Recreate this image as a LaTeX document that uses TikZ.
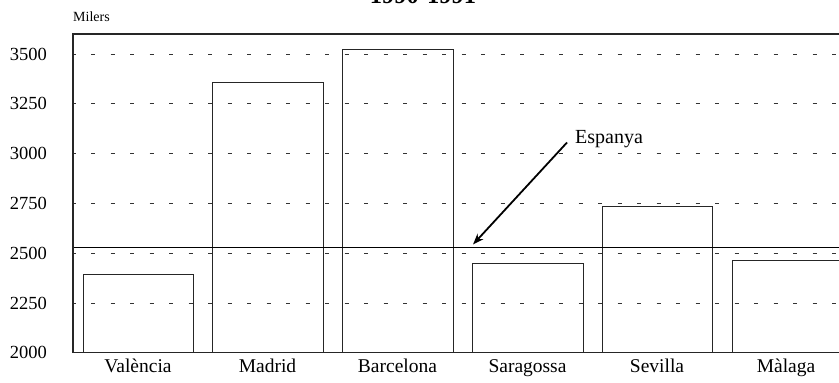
\documentclass[tikz,border=0pt]{standalone}
\usepackage{fontspec}
\setmainfont{Liberation Serif}
\usetikzlibrary{arrows.meta}
\begin{document}
\begin{tikzpicture}[x=1pt,y=-1pt,
  framestyle/.style={line width=1.3pt,black!85},
  barstyle/.style={line width=1pt,black!85},
  gridstyle/.style={line width=1pt,black!80,dash pattern=on 4pt off 15.5pt,dash phase=1.5pt},
  refline/.style={line width=0.9pt,black},
  ticklab/.style={anchor=east,font=\fontsize{18.5}{18.5}\selectfont,inner sep=0pt},
  catlab/.style={anchor=base,font=\fontsize{19.5}{19.5}\selectfont,inner sep=0pt},
  arrowstyle/.style={line width=1.8pt,-{Stealth[length=11pt,width=8pt]}}]
\useasboundingbox (0,0) rectangle (839,383);
% title (cut at top)
\node[anchor=base,font=\bfseries\fontsize{24.5}{24.5}\selectfont,inner sep=0pt] (title) at (423,3.5) {1990-1991};
% unit
\node[anchor=base west,font=\fontsize{14}{14}\selectfont,inner sep=0pt] (unit) at (73,21) {Milers};
% grid lines
\foreach \yy in {54,103.8,153.6,203.4,253.3,303.1}
  \draw[gridstyle] (73,\yy) -- (839,\yy);
% tick labels
\foreach \yy/\lab in {54/3500,103.8/3250,153.6/3000,203.4/2750,253.3/2500,303.1/2250,352.5/2000}
  \node[ticklab] at (47,\yy) {\lab};
% bars
\draw[barstyle] (83,352.5) rectangle (193,274);
\draw[barstyle] (212,352.5) rectangle (323,82.7);
\draw[barstyle] (342,352.5) rectangle (453,49.3);
\draw[barstyle] (472,352.5) rectangle (583,263);
\draw[barstyle] (602,352.5) rectangle (712,206);
\draw[barstyle] (732,352.5) -- (732,260) -- (845,260);
% category labels
\node[catlab] (c1) at (138,372) {València};
\node[catlab] (c2) at (267.5,372) {Madrid};
\node[catlab] (c3) at (397.5,372) {Barcelona};
\node[catlab] (c4) at (527.5,372) {Saragossa};
\node[catlab] (c5) at (657,372) {Sevilla};
\node[catlab] (c6) at (786,372) {Màlaga};
% Espanya reference line
\draw[refline] (73,247.6) -- (839,247.6);
% frame
\draw[framestyle] (839,34) -- (73,34) -- (73,352.5) -- (839,352.5);
% annotation
\node[anchor=base west,font=\fontsize{20}{20}\selectfont,inner sep=0pt] (esp) at (575,143) {Espanya};
\coordinate (tip) at (473,244.5);
\draw[arrowstyle] (567,142.5) -- (tip);
\end{tikzpicture}
\end{document}
